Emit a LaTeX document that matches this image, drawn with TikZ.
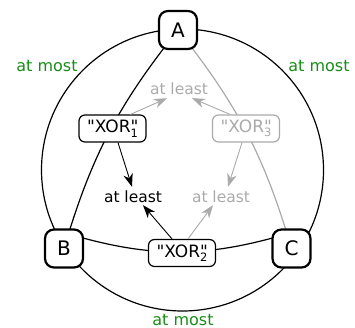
\documentclass[tikz,border=0pt]{standalone}
\usepackage{fontspec}
\setmainfont{DejaVu Sans}[Ligatures=TeXOff]
\usetikzlibrary{arrows.meta,backgrounds}
\definecolor{lgray}{RGB}{170,170,170}
\definecolor{mgreen}{RGB}{25,140,25}
\newcommand{\xorlab}[1]{"XOR\rlap{"}\raisebox{-4.5pt}{\fontsize{11.5}{11}\selectfont #1}}
\tikzset{
  big/.style={draw, line width=2.2pt, rounded corners=9pt, fill=white, minimum width=38pt, minimum height=38pt, inner sep=0pt, font=\fontsize{20}{22}\selectfont},
  xor/.style={draw, line width=1.2pt, rounded corners=6pt, fill=white, minimum width=67pt, minimum height=27pt, inner sep=2pt, font=\fontsize{17}{18}\selectfont},
  lab/.style={inner sep=2pt, font=\fontsize{15.5}{17}\selectfont},
  most/.style={inner sep=1pt, text=mgreen, font=\fontsize{16}{17}\selectfont},
  arr/.style={-{Stealth[length=13pt,width=9.5pt,inset=4pt]}, line width=0.9pt},
  conn/.style={line width=1.2pt},
}
\begin{document}
\begin{tikzpicture}[x=1pt,y=1pt]
\useasboundingbox (0,0) rectangle (355,328);
\node[big] (A) at (178,298) {A};
\node[big] (B) at (64,79.5) {B};
\node[big] (C) at (291.5,79.5) {C};
\node[xor] (X1) at (112.5,199.5) {\xorlab{1}};
\node[xor, draw=lgray, text=lgray] (X3) at (246,199.5) {\xorlab{3}};
\node[xor] (X2) at (182,75) {\xorlab{2}};
\node[lab, text=lgray] (L13) at (179,239) {at least};
\node[lab] (L12) at (133,131) {at least};
\node[lab, text=lgray] (L23) at (221,131) {at least};
\node[most] (M1) at (47,262) {at most};
\node[most] (M2) at (319,262) {at most};
\node[most] (M3) at (183,8) {at most};
\begin{pgfonlayer}{background}
\draw[conn] (182.5,158) circle[radius=141];
\draw[conn] (A.center) to[bend right=11] (B.center);
\draw[conn, lgray] (A.center) to[bend left=11] (C.center);
\draw[conn] ([yshift=16pt]B.center) to[bend right=17] ([yshift=16pt]C.center);
\end{pgfonlayer}
\draw[arr, lgray] ([xshift=18pt]X1.north) -- ([xshift=-12pt,yshift=-1pt]L13.south);
\draw[arr, lgray] ([xshift=-16pt]X3.north) -- ([xshift=13pt,yshift=-1pt]L13.south);
\draw[arr] ([xshift=5.5pt]X1.south) -- ([xshift=-1pt,yshift=2pt]L12.north);
\draw[arr, lgray] ([xshift=-4pt]X3.south) -- ([xshift=7pt,yshift=2pt]L23.north);
\draw[arr] ([xshift=-10pt]X2.north) -- ([xshift=10pt]L12.south);
\draw[arr, lgray] ([xshift=6pt]X2.north) -- ([xshift=-8pt]L23.south);
\end{tikzpicture}
\end{document}
